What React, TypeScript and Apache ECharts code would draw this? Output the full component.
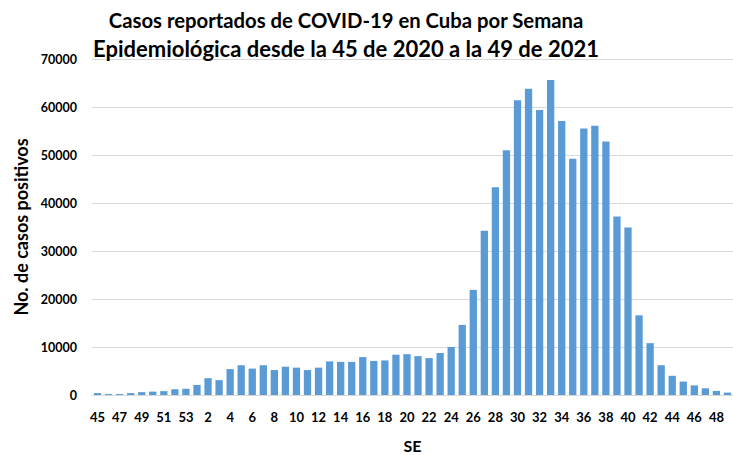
import React, { useEffect, useRef } from "react";
import * as echarts from "echarts";

const weeks2020 = ["45", "46", "47", "48", "49", "50", "51", "52", "53"];
const weeks2021 = Array.from({ length: 49 }, (_, i) => String(i + 1));
const categories = [...weeks2020, ...weeks2021];

const cases2020 = [400, 200, 200, 400, 600, 700, 800, 1200, 1300];
const cases2021 = [
  2100, 3500, 3100, 5400, 6200, 5500, 6200, 5200, 5900, 5700,
  5200, 5700, 7000, 6900, 6900, 7900, 7100, 7200, 8400, 8500,
  8100, 7700, 8750, 10000, 14600, 21900, 34200, 43300, 51000, 61400,
  63800, 59400, 65600, 57100, 49200, 55500, 56100, 52800, 37200, 34900,
  16600, 10800, 6200, 4000, 2800, 2000, 1400, 850, 500,
];
const cases = [...cases2020, ...cases2021];

const yTicks = [0, 10000, 20000, 30000, 40000, 50000, 60000, 70000];

const FONT = "Lato, 'Open Sans', sans-serif";

export default function App() {
  const ref = useRef<HTMLDivElement>(null);
  useEffect(() => {
    if (!ref.current) return;
    const chart = echarts.init(ref.current, undefined, { renderer: "svg" });
    chart.setOption({
      animation: false,
      backgroundColor: "#ffffff",
      title: {
        text: "{a|Casos reportados de COVID-19 en Cuba por Semana}\n{b|Epidemiológica desde la 45 de 2020 a la 49 de 2021}",
        left: 341,
        top: 1,
        textAlign: "center",
        textStyle: {
          fontFamily: FONT,
          fontWeight: "bold",
          fontSize: 20,
          lineHeight: 28,
          color: "#000000",
          rich: {
            a: { fontFamily: FONT, fontWeight: "bold", fontSize: 20.3, lineHeight: 28, color: "#000" },
            b: { fontFamily: FONT, fontWeight: "bold", fontSize: 22, lineHeight: 28, color: "#000" },
          },
        },
      },
      grid: { left: 92, right: 0, top: 59, bottom: 60, containLabel: false, outerBoundsMode: "none" },
      xAxis: {
        type: "category",
        data: categories,
        name: "SE",
        nameLocation: "middle",
        nameGap: 42,
        nameTextStyle: { fontFamily: FONT, fontWeight: "bold", fontSize: 16, color: "#000" },
        axisLine: { lineStyle: { color: "#d9d9d9", width: 1 } },
        axisTick: { show: false },
        axisLabel: {
          interval: 1,
          margin: 15,
          fontFamily: FONT,
          fontWeight: "bold",
          fontSize: 13,
          color: "#000",
        },
      },
      yAxis: {
        type: "value",
        min: yTicks[0],
        max: yTicks[yTicks.length - 1],
        interval: 10000,
        name: "No. de casos positivos",
        nameLocation: "middle",
        nameGap: 52,
        nameTextStyle: { fontFamily: FONT, fontWeight: "bold", fontSize: 18, color: "#000" },
        axisLine: { show: false },
        axisTick: { show: false },
        axisLabel: {
          margin: 15,
          fontFamily: FONT,
          fontWeight: "bold",
          fontSize: 12.5,
          color: "#000",
          formatter: (v: number) => String(v),
        },
        splitLine: { lineStyle: { color: "#d9d9d9", width: 1 } },
      },
      series: [
        {
          type: "bar",
          data: cases,
          barCategoryGap: "34%",
          itemStyle: { color: "#5b9bd5" },
        },
      ],
    });
    return () => chart.dispose();
  }, []);
  return <div ref={ref} style={{ width: 733, height: 455, position: "absolute", left: 0, top: 0 }} />;
}
